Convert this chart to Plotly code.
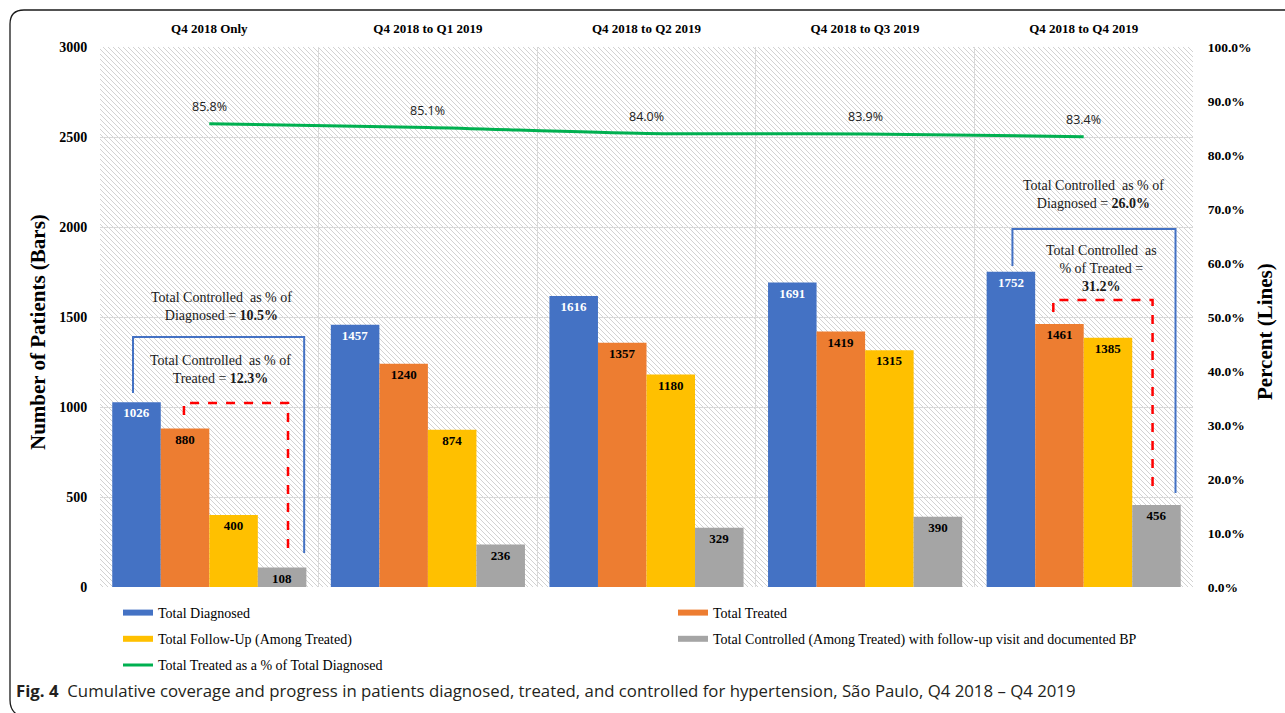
import plotly.graph_objects as go

# ---------------- data ----------------
categories = ["Q4 2018 Only", "Q4 2018 to Q1 2019", "Q4 2018 to Q2 2019",
              "Q4 2018 to Q3 2019", "Q4 2018 to Q4 2019"]
total_diagnosed = [1026, 1457, 1616, 1691, 1752]
total_treated = [880, 1240, 1357, 1419, 1461]
total_followup = [400, 874, 1180, 1315, 1385]
total_controlled = [108, 236, 329, 390, 456]
treated_pct = [85.8, 85.1, 84.0, 83.9, 83.4]
pct_labels = ["85.8%", "85.1%", "84.0%", "83.9%", "83.4%"]

left_ticks = [0, 500, 1000, 1500, 2000, 2500, 3000]
right_ticks = [0, 10, 20, 30, 40, 50, 60, 70, 80, 90, 100]
right_tick_text = ["0.0%", "10.0%", "20.0%", "30.0%", "40.0%", "50.0%",
                   "60.0%", "70.0%", "80.0%", "90.0%", "100.0%"]

# ---------------- geometry helpers ----------------
W, H = 1285, 713
ML, MR, MT, MB = 100, 92, 47, 126
PW, PH = W - ML - MR, H - MT - MB


def px(X):
    return (X - ML) / PW


def py(Y):
    return (H - MB - Y) / PH


SERIF = "Liberation Serif, Times New Roman, serif"
SANS = "Open Sans, Noto Sans, sans-serif"

BLUE = "#4472C4"
ORANGE = "#ED7D31"
YELLOW = "#FFC000"
GRAY = "#A5A5A5"
GREEN = "#00B050"

fig = go.Figure()

# legend swatches (bar series use flat swatches like the original)
legend_items = [
    ("Total Diagnosed", BLUE, "legend", "g1"),
    ("Total Follow-Up (Among Treated)", YELLOW, "legend", "g3"),
    ("Total Treated", ORANGE, "legend2", "g2"),
    ("Total Controlled (Among Treated) with follow-up visit and documented BP", GRAY, "legend2", "g4"),
]
for name, col, lg, grp in legend_items:
    fig.add_trace(go.Scatter(x=[None], y=[None], mode="lines", name=name,
                             line=dict(color=col, width=6), legend=lg,
                             legendgroup=grp, hoverinfo="skip"))

bar_series = [
    ("Total Diagnosed", total_diagnosed, BLUE, "white"),
    ("Total Treated", total_treated, ORANGE, "black"),
    ("Total Follow-Up (Among Treated)", total_followup, YELLOW, "black"),
    ("Total Controlled (Among Treated) with follow-up visit and documented BP", total_controlled, GRAY, "black"),
]
for name, vals, col, tcol in bar_series:
    fig.add_trace(go.Bar(
        x=categories, y=vals, name=name, marker=dict(color=col, line=dict(width=0)),
        text=vals, texttemplate="%{text}", textposition="inside",
        insidetextanchor="end", textangle=0, constraintext="none",
        textfont=dict(family=SERIF, size=13, color=tcol, weight="bold"),
        showlegend=False,
    ))

fig.add_trace(go.Scatter(
    x=categories, y=treated_pct, yaxis="y2", mode="lines",
    name="Total Treated as a % of Total Diagnosed",
    line=dict(color=GREEN, width=3, shape="spline", smoothing=0.8),
    legend="legend", legendgroup="g5",
))

# ---------------- hatched plot background ----------------
step = 5
segs = []
c = -PW
while c <= PH:
    u0 = max(0, -c)
    u1 = min(PW, PH - c)
    if u1 > u0:
        segs.append("M%.5f,%.5f L%.5f,%.5f" % (u0 / PW, 1 - (u0 + c) / PH,
                                               u1 / PW, 1 - (u1 + c) / PH))
    c += step
shapes = [dict(type="path", xref="paper", yref="paper", path=" ".join(segs),
               line=dict(color="#d2d2d2", width=1), layer="below")]

# outer rounded frame
frame = "M%.5f,%.5f L%.5f,%.5f Q%.5f,%.5f %.5f,%.5f L%.5f,%.5f Q%.5f,%.5f %.5f,%.5f" % (
    px(1300), py(10), px(24), py(10), px(10), py(10), px(10), py(24),
    px(10), py(700), px(10), py(712), px(20), py(716))
shapes.append(dict(type="path", xref="paper", yref="paper", path=frame,
                   line=dict(color="#1a1a1a", width=1.3), layer="above"))


def bracket(xl, yl, xr, yr, ytop, color, dash, width):
    return dict(type="path", xref="x", yref="y",
                path="M%s,%s L%s,%s L%s,%s L%s,%s" % (xl, yl, xl, ytop, xr, ytop, xr, yr),
                line=dict(color=color, width=width, dash=dash), layer="above")


shapes += [
    bracket(-0.349, 1078, 0.434, 189, 1389, BLUE, "solid", 2),
    bracket(-0.116, 956, 0.360, 194, 1022, "#FF0000", "dash", 2.5),
    bracket(3.674, 1783, 4.420, 522, 1989, BLUE, "solid", 2),
    bracket(3.861, 1528, 4.315, 539, 1594, "#FF0000", "dash", 2.5),
]

# ---------------- annotations ----------------
ann = []
for cat, v, lab in zip(categories, treated_pct, pct_labels):
    ann.append(dict(x=cat, y=v, xref="x", yref="y2", text=lab, showarrow=False,
                    yshift=17, font=dict(family=SANS, size=12.5, color="#222222")))

note_font = dict(family=SERIF, size=14, color="#1a1a1a")
ann += [
    dict(x=0.054, y=1556, xref="x", yref="y", showarrow=False, font=note_font,
         text="Total Controlled\u00a0 as % of<br>Diagnosed = <b>10.5%</b>"),
    dict(x=0.052, y=1211, xref="x", yref="y", showarrow=False, font=note_font,
         text="Total Controlled\u00a0 as % of<br>Treated = <b>12.3%</b>"),
    dict(x=4.045, y=2178, xref="x", yref="y", showarrow=False, font=note_font,
         text="Total Controlled\u00a0 as % of<br>Diagnosed = <b>26.0%</b>"),
    dict(x=4.081, y=1772, xref="x", yref="y", showarrow=False, font=note_font,
         text="Total Controlled\u00a0 as<br>% of Treated =<br><b>31.2%</b>"),
]

ann += [
    dict(x=px(38), y=py(332), xref="paper", yref="paper", showarrow=False,
         textangle=-90, xanchor="center", yanchor="middle",
         text="<b>Number of Patients (Bars)</b>",
         font=dict(family=SERIF, size=21, color="black")),
    dict(x=px(1265), y=py(332), xref="paper", yref="paper", showarrow=False,
         textangle=-90, xanchor="center", yanchor="middle",
         text="<b>Percent (Lines)</b>",
         font=dict(family=SERIF, size=21, color="black")),
    dict(x=px(14), y=py(690), xref="paper", yref="paper", showarrow=False,
         xanchor="left", yanchor="middle",
         text="<b>Fig. 4</b>\u00a0 Cumulative coverage and progress in patients diagnosed, treated, "
              "and controlled for hypertension, São Paulo, Q4 2018 – Q4 2019",
         font=dict(family=SANS, size=16.8, color="#231f20")),
]

fig.update_layout(
    width=W, height=H,
    margin=dict(l=ML, r=MR, t=MT, b=MB, pad=0),
    paper_bgcolor="white", plot_bgcolor="rgba(0,0,0,0)",
    barmode="group", bargap=0.112, bargroupgap=0,
    shapes=shapes, annotations=ann,
    xaxis=dict(type="category", categoryorder="array", categoryarray=categories,
               side="top", tickson="boundaries", showgrid=True,
               gridcolor="#d9d9d9", gridwidth=1, ticks="", ticklabelstandoff=10,
               showline=False, zeroline=False,
               tickfont=dict(family=SERIF, size=13, color="black", weight="bold"),
               fixedrange=True),
    yaxis=dict(range=[0, 3000], tickvals=left_ticks, showgrid=True,
               gridcolor="#d9d9d9", gridwidth=1, zeroline=False, showline=False,
               ticks="outside", ticklen=9, tickcolor="rgba(0,0,0,0)",
               tickfont=dict(family=SERIF, size=14, color="black", weight="bold")),
    yaxis2=dict(range=[0, 100], tickvals=right_ticks, ticktext=right_tick_text,
                overlaying="y", side="right", showgrid=False, zeroline=False,
                showline=False, ticks="outside", ticklen=11,
                tickcolor="rgba(0,0,0,0)",
                tickfont=dict(family=SERIF, size=13.5, color="black", weight="bold")),
    legend=dict(x=px(118), y=py(597), xanchor="left", yanchor="top",
                orientation="v", traceorder="grouped", tracegroupgap=5,
                bgcolor="rgba(0,0,0,0)",
                font=dict(family=SERIF, size=14, color="black")),
    legend2=dict(x=px(673), y=py(597), xanchor="left", yanchor="top",
                 orientation="v", traceorder="grouped", tracegroupgap=5,
                 bgcolor="rgba(0,0,0,0)",
                 font=dict(family=SERIF, size=14, color="black")),
    showlegend=True,
    hovermode=False,
)

fig.write_html("out.html")
